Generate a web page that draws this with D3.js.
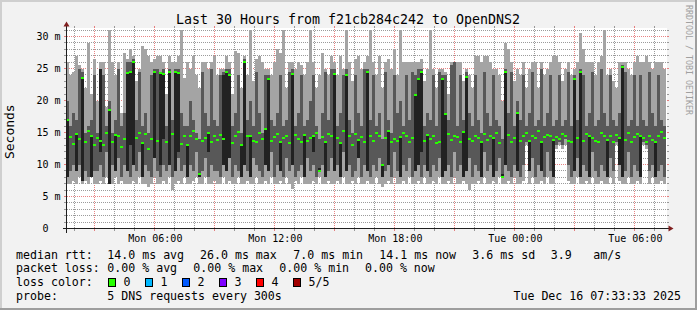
<!DOCTYPE html>
<html>
<head>
<meta charset="utf-8">
<script src="https://cdn.jsdelivr.net/npm/d3@7"></script>
<style>
  body { margin: 0; background: #f2f2f2; }
  svg { display: block; font-family: "DejaVu Sans Mono", monospace; }
</style>
</head>
<body>
<svg id="chart" width="697" height="310"></svg>
<script>
// Smoke data, one column every 9 minutes over the 30 hours (values in ms)
const pingMin = [
  7,7,7.5,7,8,7,7.5,7,8,7,
  7,7.5,7,8,7,7,8,7,7.5,7,
  7,7,7.5,7,8,7,7,6.5,7,8,
  7,7,7.5,7,8,6,7,7.5,7,8,
  7,7,7.5,8,7,7,8,7,7,7.5,
  7,7,8,7,7.5,7,7,8,7,7,
  7.5,7,7,8,7,7,7.5,7,8,7,
  7,7.5,7,8,7,6.2,7.5,7,8,7,
  7,7,7.5,7,8,7,7,7.5,7,7,
  7.5,7,8,7,7,7.5,7,8,7,7,
  7.5,7,7,8,7,6.5,7,7.5,7,8,
  7,7,7.5,7,8,7,7,7.5,7,8,
  7,7,7.5,7,8,7,7,7.5,7,8,
  7,7,7.5,7,6,7,7,7.5,7,8,
  7,7,7.5,7,8,7,7,7.5,7,8,
  7,7,7.5,13,7,8,7,7,7.5,7,
  8,7,7,12.5,13,12.5,13,7.5,7,7,
  8,7,7,7.5,7,8,7,7,7.5,7,
  7,8,7,13,7.5,7,7,8,7,7,
  7.5,7,13,12.5,7,8,7,7,7.5,7
];
const ping2 = [
  8,9,10,9,10,8,9,8,11,9,
  9,10,8,12,9,10,9,11,8,10,
  9,8,10,9,12,8,10,9,8,11,
  9,8,10,9,10,8,9,11,9,10,
  8,10,9,12,8,9,11,8,10,9,
  9,8,10,9,11,8,10,9,8,10,
  9,8,11,10,9,8,10,9,12,8,
  10,9,8,11,9,10,8,9,10,8,
  11,9,10,8,9,10,8,9,11,9,
  10,8,12,9,10,8,9,11,8,10,
  9,8,10,9,11,8,9,10,8,12,
  9,8,10,9,11,8,9,10,8,10,
  9,8,10,9,11,8,9,10,8,12,
  9,10,8,9,11,8,10,9,8,12,
  9,10,8,9,11,8,10,9,8,10,
  9,8,10,13.5,9,11,8,10,9,8,
  12,9,8,13,13.5,13,14,10,8,9,
  11,8,10,9,8,12,9,8,10,9,
  8,11,9,13.5,10,8,9,12,8,10,
  9,8,13.5,13,9,10,8,9,10,8
];
// near-black band (0,0 = none in that column)
const darkLow = [
  8,0,0,9,0,7.5,0,0,8,0,
  0,12,0,0,7,0,9,0,0,0,
  9,13,10,0,0,8,0,0,0,11,
  0,10,14,0,10,0,9,12,0,0,
  8,0,0,0,8,0,0,12,0,0,
  0,0,10,9,11,0,0,0,8,10,
  0,8,0,0,0,0,10,9,0,0,
  0,9,0,0,0,10,0,0,0,8,
  0,0,12,0,9,0,8,0,0,9,
  0,8,0,9,0,0,0,11,0,0,
  9,0,0,0,0,8,0,10,0,0,
  0,8,0,0,0,0,9,10,12,0,
  9,0,0,0,0,8,9,0,0,0,
  0,0,8,9,0,0,0,0,8,0,
  0,0,8,0,0,8,10,0,0,0,
  9,0,0,0,9,0,0,0,9,0,
  0,0,8,0,0,0,0,0,0,9,
  0,8,0,0,8,0,0,0,0,0,
  8,0,0,0,10,8,0,0,0,0,
  0,8,0,0,0,0,8,0,0,0
];
const darkHigh = [
  17,0,0,14.8,0,23.5,0,0,14.5,0,
  0,25,0,0,18.5,0,14.6,0,0,0,
  24.3,24.5,26,0,0,13.4,0,0,0,24.5,
  0,24.3,24.2,0,24.4,0,24.5,24.3,0,0,
  13,0,0,0,8.5,0,0,14.9,0,0,
  0,0,24,24.4,24,0,0,0,13,26,
  0,14.5,0,0,0,0,15.5,23.3,0,0,
  0,13.5,0,0,0,24.2,0,0,0,14.6,
  0,0,14.5,0,9.5,0,13.5,0,0,24.2,
  0,13.4,0,24,0,0,0,13.8,0,0,
  24.5,0,0,0,0,10,0,15.3,0,0,
  0,14.3,0,0,0,0,20.8,23.4,24.4,0,
  14.6,0,0,0,0,23.4,17.9,0,0,0,
  0,0,15.1,23.6,0,0,0,0,13.5,0,
  0,0,14.2,0,0,8.5,24.4,0,0,0,
  18.1,0,0,0,13.6,0,0,0,13.5,0,
  0,0,13.8,0,0,0,0,0,0,23.4,
  0,24.4,0,0,14.5,0,0,0,0,0,
  13.9,0,0,0,14.2,25.2,0,0,0,0,
  0,14.5,0,0,0,0,13.5,0,0,0
];
const median = [
  17,14.3,13.2,14.8,14,23.5,13.5,15.2,14.5,13,
  14.2,13.6,13,15,18.5,13.5,14.6,14.5,12.8,14,
  24.3,24.5,26,14.2,15,13.4,14.7,12.5,14,24.5,
  13.6,24.3,24.2,13.5,24.4,14.8,24.5,24.3,13.2,14.5,
  13,14.4,15.3,14,8.5,13.6,14.2,14.9,13.5,14.5,
  13.8,14.6,14,24.4,24,13.3,14.5,15.1,13,26,
  14.4,14.5,13.7,13.5,14.9,14,15.5,23.3,13.6,14.3,
  14.8,13.5,14.1,14.5,13.4,24.2,14.6,14,13.5,14.6,
  13.7,14.2,14.5,15,9,14.3,13.5,14.8,14.5,24.2,
  14.1,13.4,15.2,24,14.5,13,14.7,13.8,14.3,13.5,
  24.5,14.4,13.6,14.9,14.5,10,14.2,15.3,13.5,14,
  13.6,14.3,14.9,14.5,13.5,14.1,20.8,23.4,24.4,13.7,
  14.6,14,14.5,13.3,13.5,23.4,17.9,14.8,13.9,14.5,
  14.3,13.5,15.1,23.6,14,13.6,14.5,14.2,13.5,14.7,
  13.8,14.5,14.2,15,13.4,8,24.4,14.6,13.5,14.1,
  18.1,13.7,14.4,14.9,13.6,14.5,14.2,15.2,13.5,14.3,
  14.6,14.5,13.8,14.3,14,14.8,14.5,13.6,13.5,23.4,
  14.2,24.4,13.7,14.8,14.5,14.1,13.6,13.5,15,14.4,
  13.9,14.5,13.5,14.6,14.2,25.2,13.8,14.9,13.5,14.3,
  14.7,14.5,14.1,13.5,14.4,13.8,13.5,14.5,15.1,14.2
];
const ping4 = [
  20,16,18,17,25,24.5,15,16,17,24,
  15,25,24,16,20,15,17,25,16,18,
  26,26,26.5,17,24.5,16,18,15,24,25,
  25,24.5,25,16,25,17,25,25,18,16,
  16,20,17,15,14,24.5,18,16,25,17,
  16,24,24.5,25,25,16,18,24,15,26.5,
  17,20,16,24.5,18,15,24,24,17,16,
  18,24,16,17,24.5,25,16,18,24,16,
  17,20,24,16,14,18,24.5,17,25,25,
  16,18,24,25,17,15,24,18,16,25,
  25,17,24,16,18,14,24.5,17,15,24,
  18,20,16,24,17,24.5,24,25,25,16,
  18,17,24,16,24.5,24,24,17,25.5,26,
  16,24,17,24.5,18,16,24,17,15,24.5,
  18,16,24,17,16,14,25,18,24.5,16,
  20,17,24,16,18,24.5,16,17,25,16,
  18,24,16,17,24,16,17,24.5,16,24,
  17,25,24,16,18,24.5,16,17,25,18,
  16,24,17,16,18,25.5,24.5,16,17,24,
  16,24,17,16,24.5,18,16,24,17,16
];
const pingMax = [
  26,24,24.5,27,25.5,25,22,29,21,26.5,
  20,26,26,19,31,26,24,26,18,27.5,
  26.5,28,27,23,25,28.5,28,27,26,26.5,
  27,27,26,21,27,26,26,27,31,23.5,
  26,25,27,24,22,26,26,25,26,27,
  24,25,25,27,26,21,27.8,27.5,22,27,
  24,31,23,26.5,27,26,25,25,24,26,
  28,27.5,31,22,26,26,25,26,25.5,24,
  26,31,26,22,24,27.5,25,24,27,26,
  24,27,25,31,26,23,26.5,27,25,26,
  27,31,26,24,27,22,26,26.5,25,28,
  24,31,26,26,26,26,26,26,26.5,23,
  25,31,25,22,25,25,24.5,21,26,26,
  26,26,23,25,24,22,27,27,26,27,
  27,26,25,25,24,20,29,28,26,23,
  25,24,26,22,25,26,26,22,26,24,
  25,26,27,27,26,23,25,26,24,25,
  26,30.5,28,26,26,26,24,26,27,31,
  24,25,23,22,26,26,26,25,24,26,
  27,26,26,27,26,25,26,26,26,25
];

const startTime = new Date(2025, 11, 15, 1, 33, 33);
const endTime = new Date(2025, 11, 16, 7, 33, 33);
const stepMinutes = 9;

// legend texts
const titleText = "Last 30 Hours from f21cb284c242 to OpenDNS2";
const medianStats = ["14.0 ms avg", "26.0 ms max", "7.0 ms min", "14.1 ms now", "3.6 ms sd", "3.9", "am/s"];
const lossStats = ["0.00 % avg", "0.00 % max", "0.00 % min", "0.00 % now"];
const lossLabels = ["0", "1", "2", "3", "4", "5/5"];
const lossColors = ["#26ff00", "#00b8ff", "#0059ff", "#7e00ff", "#ff0000", "#a10000"];
const probeText = "5 DNS requests every 300s";

const medianStatX = [107.3, 200, 293.3, 379.3, 472.3, 550.7, 593.3];
const lossStatX = [107.3, 193.3, 279.3, 365];

const svg = d3.select("#chart");

// background + 3d border
svg.append("rect").attr("width", 697).attr("height", 310).attr("fill", "#f2f2f2");
svg.append("rect").attr("x", 0).attr("y", 0).attr("width", 697).attr("height", 2).attr("fill", "#cfcfcf");
svg.append("rect").attr("x", 0).attr("y", 0).attr("width", 2).attr("height", 310).attr("fill", "#cfcfcf");
svg.append("rect").attr("x", 0).attr("y", 308).attr("width", 697).attr("height", 2).attr("fill", "#9e9e9e");
svg.append("rect").attr("x", 695).attr("y", 0).attr("width", 2).attr("height", 310).attr("fill", "#9e9e9e");

const X0 = 66.5, X1 = 666.5, Y0 = 228.5, Y1 = 28.5;

const x = d3.scaleTime().domain([startTime, endTime]).range([66, 666]);
const y = d3.scaleLinear().domain([0, 31.25]).range([Y0, Y1]);
const px = v => Math.round(v - 0.5) + 0.5;

// canvas
svg.append("rect").attr("x", 66).attr("y", 28).attr("width", 601).attr("height", 201).attr("fill", "#ffffff");

// grid (under the smoke), dotted 1 on / 1 off
const grid = svg.append("g");
const minorColor = "rgba(130,130,130,0.8)";
const majorColor = "rgba(222,79,79,0.7)";

y.ticks(31).filter(v => v > 0).forEach(v => {
  const yy = px(y(v));
  const col = v % 5 === 0 ? majorColor : minorColor;
  grid.append("line").attr("x1", 67).attr("x2", 667).attr("y1", yy).attr("y2", yy)
    .attr("stroke", col).attr("stroke-dasharray", "1,1");
  grid.append("line").attr("x1", 64).attr("x2", 66).attr("y1", yy).attr("y2", yy).attr("stroke", col);
  grid.append("line").attr("x1", 667).attr("x2", 669).attr("y1", yy).attr("y2", yy).attr("stroke", col);
});

x.ticks(d3.timeHour.every(1)).forEach(t => {
  const xx = px(x(t));
  const col = t.getHours() % 3 === 0 ? majorColor : minorColor;
  grid.append("line").attr("x1", xx).attr("x2", xx).attr("y1", 29).attr("y2", 228)
    .attr("stroke", col).attr("stroke-dasharray", "1,1");
  grid.append("line").attr("x1", xx).attr("x2", xx).attr("y1", 229).attr("y2", 231).attr("stroke", col);
  grid.append("line").attr("x1", xx).attr("x2", xx).attr("y1", 26).attr("y2", 28).attr("stroke", col);
});

// smoke columns
const cols = pingMin.map((d, i) => ({
  t0: d3.timeMinute.offset(startTime, i * stepMinutes),
  t1: d3.timeMinute.offset(startTime, (i + 1) * stepMinutes),
  lo: pingMin[i], p2: ping2[i], dl: darkLow[i], dh: darkHigh[i],
  med: median[i], p4: ping4[i], hi: pingMax[i]
}));

const plot = svg.append("g").attr("shape-rendering", "crispEdges");

function band(key, a, b, color) {
  plot.selectAll("rect." + key)
    .data(cols.filter(d => d[b] > d[a]))
    .join("rect")
    .attr("class", key)
    .attr("x", d => x(d.t0))
    .attr("width", d => x(d.t1) - x(d.t0))
    .attr("y", d => y(d[b]))
    .attr("height", d => y(d[a]) - y(d[b]))
    .attr("fill", color);
}
band("light", "lo", "hi", "#a4a4a4");
band("mid", "p2", "p4", "#585858");
band("dark", "dl", "dh", "#222222");

plot.selectAll("rect.median")
  .data(cols)
  .join("rect")
  .attr("class", "median")
  .attr("x", d => x(d.t0))
  .attr("width", d => x(d.t1) - x(d.t0))
  .attr("y", d => Math.round(y(d.med)) - 1)
  .attr("height", 2)
  .attr("fill", lossColors[0]);

// axes lines and arrows
const axisColor = "#1f1f1f";
svg.append("line").attr("x1", X0 - 4).attr("x2", X1 + 4).attr("y1", Y0).attr("y2", Y0)
  .attr("stroke", axisColor).attr("shape-rendering", "crispEdges");
svg.append("line").attr("x1", X0).attr("x2", X0).attr("y1", Y0 + 4).attr("y2", Y1 - 4)
  .attr("stroke", axisColor).attr("shape-rendering", "crispEdges");
svg.append("path").attr("d", `M${X1 + 2},${Y0 - 3}L${X1 + 2},${Y0 + 3}L${X1 + 7},${Y0}Z`).attr("fill", "#801f1f");
svg.append("path").attr("d", `M${X0 - 3},${Y1 - 2}L${X0 + 3},${Y1 - 2}L${X0},${Y1 - 7}Z`).attr("fill", "#801f1f");

// axis labels
const xAxis = svg.append("g")
  .attr("transform", `translate(0,${Y0})`)
  .call(d3.axisBottom(x)
    .tickValues(x.ticks(d3.timeHour.every(6)))
    .tickFormat(d3.timeFormat("%a %H:%M"))
    .tickSize(0).tickPadding(6));
xAxis.select(".domain").remove();
xAxis.attr("font-family", "DejaVu Sans Mono").attr("font-size", 10);
xAxis.selectAll("text").attr("fill", "#000");

const yAxis = svg.append("g")
  .attr("transform", `translate(${X0},0)`)
  .call(d3.axisLeft(y)
    .tickValues(d3.range(0, 31, 5))
    .tickFormat(d => d === 0 ? "0  " : d + " m")
    .tickSize(0).tickPadding(6));
yAxis.select(".domain").remove();
yAxis.attr("font-family", "DejaVu Sans Mono").attr("font-size", 10);
yAxis.selectAll("text").attr("fill", "#000").attr("xml:space", "preserve").style("white-space", "pre");

// title, unit, watermark
svg.append("text").attr("x", 348).attr("y", 24).attr("text-anchor", "middle")
  .attr("font-size", 13.3).text(titleText);
svg.append("text").attr("transform", "translate(14,131.7) rotate(-90)").attr("text-anchor", "middle")
  .attr("font-size", 13).text("Seconds");
svg.append("text").attr("transform", "translate(685.5,60) rotate(90)").attr("text-anchor", "middle")
  .attr("font-size", 8.3).attr("fill", "#a0a0a0").text("RRDTOOL / TOBI OETIKER");

// legend
const legend = svg.append("g").attr("font-size", 11.6).attr("fill", "#000");
const rowY = [258.5, 272.4, 286.3, 300.2];

legend.append("text").attr("x", 16).attr("y", rowY[0]).text("median rtt:");
medianStats.forEach((s, i) => legend.append("text").attr("x", medianStatX[i]).attr("y", rowY[0]).text(s));

legend.append("text").attr("x", 16).attr("y", rowY[1]).text("packet loss:");
lossStats.forEach((s, i) => legend.append("text").attr("x", lossStatX[i]).attr("y", rowY[1]).text(s));

legend.append("text").attr("x", 16).attr("y", rowY[2]).text("loss color:");
lossLabels.forEach((s, i) => {
  const bx = 108.5 + 37 * i;
  legend.append("rect").attr("x", bx).attr("y", 278.5).attr("width", 7).attr("height", 8)
    .attr("fill", lossColors[i]).attr("stroke", "#000").attr("stroke-width", 1);
  legend.append("text").attr("x", bx + 15).attr("y", rowY[2]).text(s);
});

legend.append("text").attr("x", 16).attr("y", rowY[3]).text("probe:");
legend.append("text").attr("x", 107.3).attr("y", rowY[3]).text(probeText);
legend.append("text").attr("x", 681).attr("y", rowY[3]).attr("text-anchor", "end")
  .text(d3.timeFormat("%a %b %d %H:%M:%S %Y")(endTime));
</script>
</body>
</html>
